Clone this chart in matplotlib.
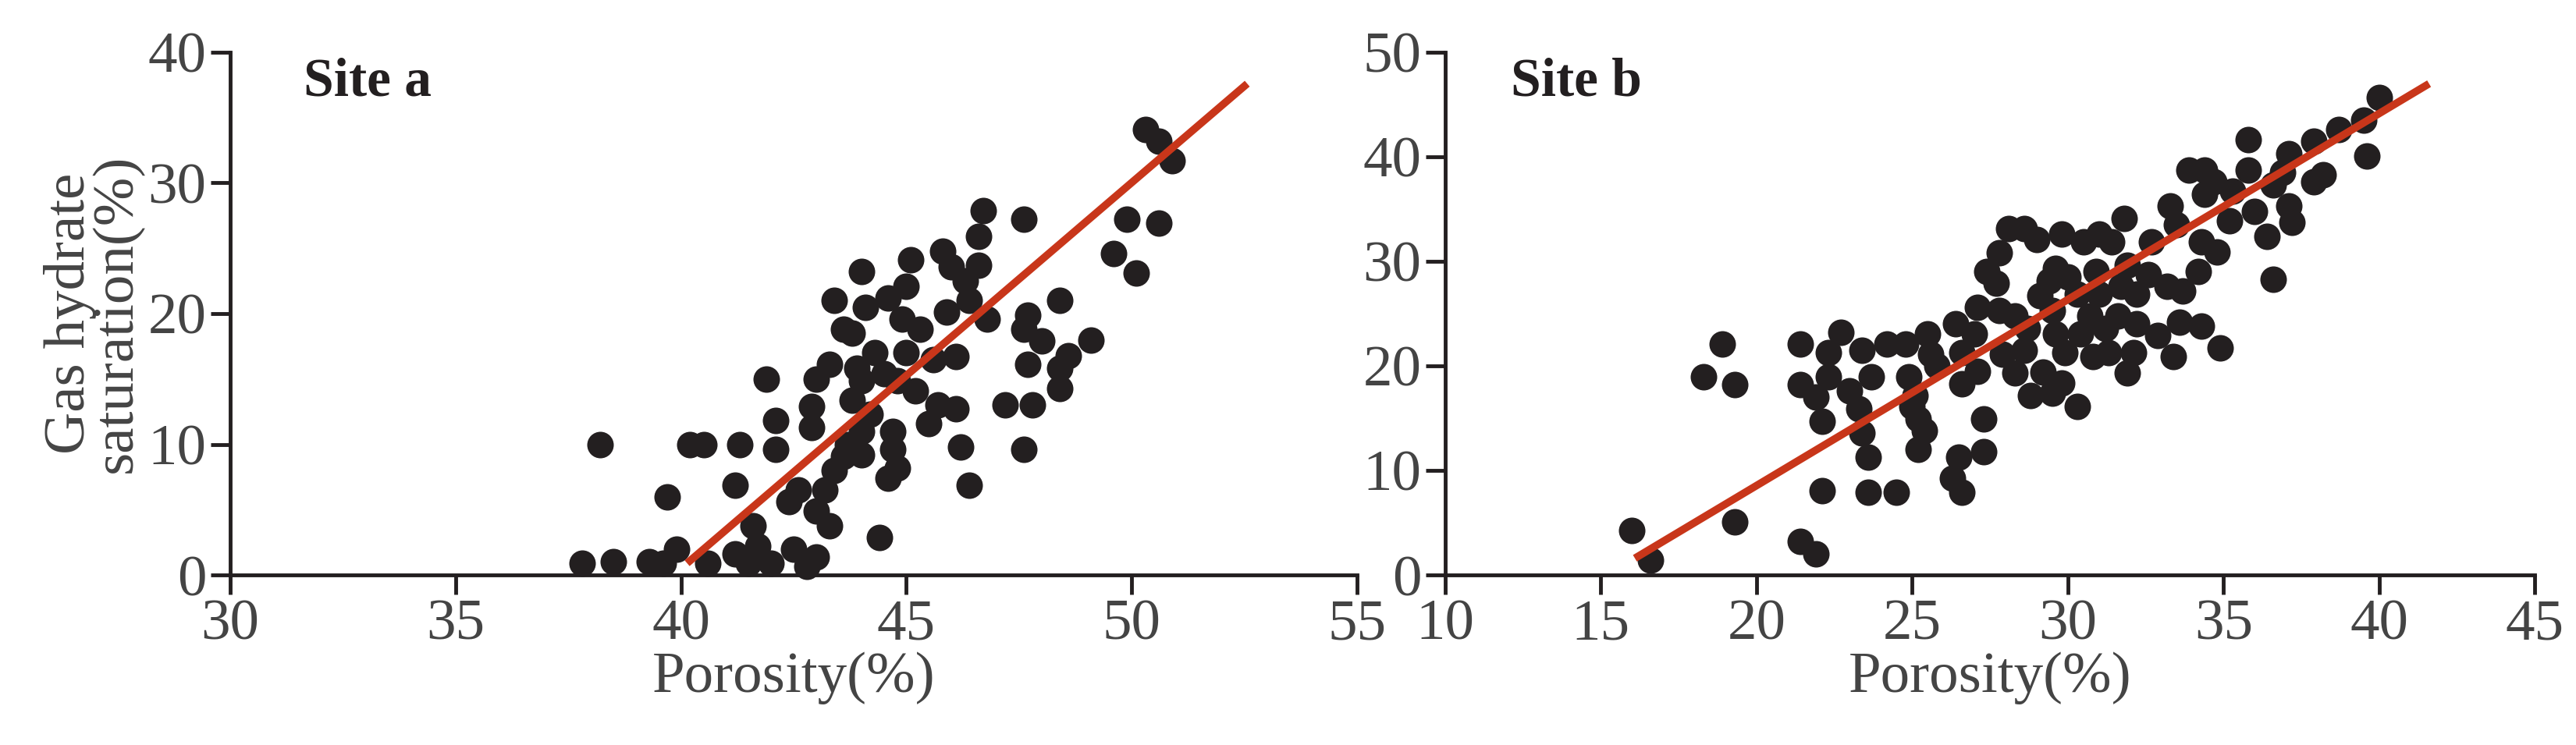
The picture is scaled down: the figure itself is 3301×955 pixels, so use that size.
import matplotlib
matplotlib.use("Agg")
import matplotlib.pyplot as plt

plt.rcParams['font.family'] = ['Liberation Serif', 'DejaVu Serif']

a_x = [37.8,38.5,38.2,39.3,39.6,39.9,39.7,40.2,40.5,40.6,41.2,41.3,41.6,41.2,41.7,41.5,42.0,41.9,42.1,42.1,
       42.5,42.8,43.0,42.4,42.6,42.9,42.9,43.0,43.3,43.0,43.3,43.2,43.4,43.6,43.7,44.0,43.8,44.0,43.9,44.0,
       44.2,44.3,43.6,43.8,43.4,44.1,44.0,44.6,45.0,45.1,44.9,45.3,45.0,44.5,44.8,45.2,44.7,44.7,44.8,44.6,
       44.4,45.5,45.7,45.6,46.1,46.1,46.2,46.4,45.9,46.0,45.8,46.3,46.4,46.8,46.6,46.6,46.7,47.6,47.7,47.6,
       48.0,47.7,47.8,47.2,47.6,48.4,48.6,48.4,48.4,49.1,49.6,49.9,50.1,50.3,50.6,50.9,50.6]
a_y = [0.9,1.0,10,1,0.9,2,6,10,10,0.9,6.9,10,3.8,1.6,2.2,0.9,0.9,15,11.8,9.6,
       2,0.7,1.4,5.6,6.5,11.3,12.9,15,16.1,4.9,3.8,6.5,8,9.1,10,9.2,13.4,14.9,15.8,11,
       12.3,17,18.8,18.5,21,20.5,23.2,21.2,22.1,24.1,19.6,18.8,17,15.4,14.9,14.1,11,9.6,8.2,7.4,
       2.9,11.6,13,16.5,16.7,12.7,9.8,6.9,20.1,23.6,24.8,22.5,21,19.6,23.7,25.9,27.9,27.2,19.9,18.8,
       17.9,16.1,13,13,9.6,21,16.8,15.8,14.3,18,24.6,27.2,23.1,34.1,33.2,31.7,26.9]
a_fit_x = [40.2, 52.5]
a_fit_y = [1.1, 37.4]

b_x = [16.0,16.6,18.3,18.9,19.3,19.3,21.4,21.9,21.4,21.4,21.9,22.1,22.1,22.3,22.3,22.7,23.0,23.3,23.4,23.6,
       23.6,23.4,23.7,24.2,24.5,24.8,24.9,25.1,25.0,25.2,25.4,25.2,25.5,25.6,25.8,26.3,26.5,26.6,26.4,26.6,
       26.6,27.0,27.1,27.1,27.3,27.3,27.4,27.7,27.8,27.8,27.9,28.1,28.3,28.3,28.6,28.6,28.7,28.8,29.0,29.1,
       29.2,29.4,29.5,29.5,29.6,29.6,29.8,29.8,29.9,30.0,30.3,30.3,30.4,30.5,30.7,30.8,30.9,31.0,31.0,31.2,
       31.3,31.4,31.6,31.7,31.8,31.9,31.9,32.1,32.2,32.2,32.6,32.7,32.9,33.2,33.3,33.5,33.4,33.6,33.7,33.9,
       34.2,34.3,34.3,34.4,34.4,34.7,34.8,34.9,35.2,35.3,35.8,35.8,36.0,36.4,36.6,36.6,36.9,37.1,37.1,37.2,
       37.9,37.9,38.2,38.7,39.5,39.6,40.0]
b_y = [4.3,1.4,19,22.1,18.2,5.1,3.2,2,22.1,18.2,17,14.7,8.1,21.3,19,23.2,17.6,15.9,13.6,11.3,
       7.9,21.5,19,22.1,7.9,22.1,19,17.2,16.1,14.9,13.8,12,23.1,21.1,20,9.3,11.3,7.9,24,21.3,
       18.3,23.1,25.6,19.5,14.9,11.8,29,27.9,30.8,25.3,21.1,33.1,19.3,24.8,33.1,21.5,23.6,17.2,32.1,26.7,
       19.4,28.1,17.4,25.3,29.3,23.1,32.6,18.4,21.3,28.5,16.1,26.9,23.1,31.9,24.8,20.9,29,32.6,26.9,23.6,
       21.3,31.9,24.8,27.6,34.1,29.6,19.3,21.3,24,26.9,28.7,31.9,22.9,27.6,35.3,33.5,20.9,24.2,27.2,38.7,
       29,31.9,23.8,38.7,36.4,37.6,30.9,21.7,33.9,36.7,41.6,38.7,34.8,32.4,37.3,28.3,38.5,40.3,35.3,33.7,
       41.5,37.6,38.3,42.6,43.5,40.1,45.7]
b_fit_x = [16.2, 41.5]
b_fit_y = [1.8, 46.8]

a_xticks = [30, 35, 40, 45, 50, 55]
a_yticks = [0, 10, 20, 30, 40]
b_xticks = [10, 15, 20, 25, 30, 35, 40, 45]
b_yticks = [0, 10, 20, 30, 40, 50]

dot = '#231f20'
red = '#c8361a'
fs = 54

fig = plt.figure(figsize=(33.01, 9.55), dpi=100)
axa = fig.add_axes([0.0894, 0.228, 0.4374, 0.702])
axb = fig.add_axes([0.561, 0.228, 0.423, 0.702])

def style(ax, xt, yt):
    for s in ['top', 'right']:
        ax.spines[s].set_visible(False)
    for s in ['left', 'bottom']:
        ax.spines[s].set_linewidth(3.5)
        ax.spines[s].set_color('#231f20')
    ax.set_xticks(xt)
    ax.set_yticks(yt)
    ax.set_xlim(xt[0], xt[-1])
    ax.set_ylim(yt[0], yt[-1])
    ax.tick_params(axis='both', length=18, width=3.5, labelsize=fs, colors='#231f20', labelcolor='#444444', pad=4)
    ax.set_xlabel('Porosity(%)', fontsize=fs, color='#444444', labelpad=0)

axa.scatter(a_x, a_y, s=600, color=dot, zorder=3, clip_on=False, linewidths=0)
axa.plot(a_fit_x, a_fit_y, color=red, lw=7, zorder=4, clip_on=False)
style(axa, a_xticks, a_yticks)
axa.set_ylabel('Gas hydrate\nsaturation(%)', fontsize=fs, color='#444444', linespacing=0.85, labelpad=4)
axa.text(0.065, 0.99, 'Site a', transform=axa.transAxes, fontsize=50, fontweight='bold', va='top', color='#231f20')

axb.scatter(b_x, b_y, s=600, color=dot, zorder=3, clip_on=False, linewidths=0)
axb.plot(b_fit_x, b_fit_y, color=red, lw=7, zorder=4, clip_on=False)
style(axb, b_xticks, b_yticks)
axb.text(0.06, 0.99, 'Site b', transform=axb.transAxes, fontsize=50, fontweight='bold', va='top', color='#231f20')

fig.savefig('out.png', dpi=100)
